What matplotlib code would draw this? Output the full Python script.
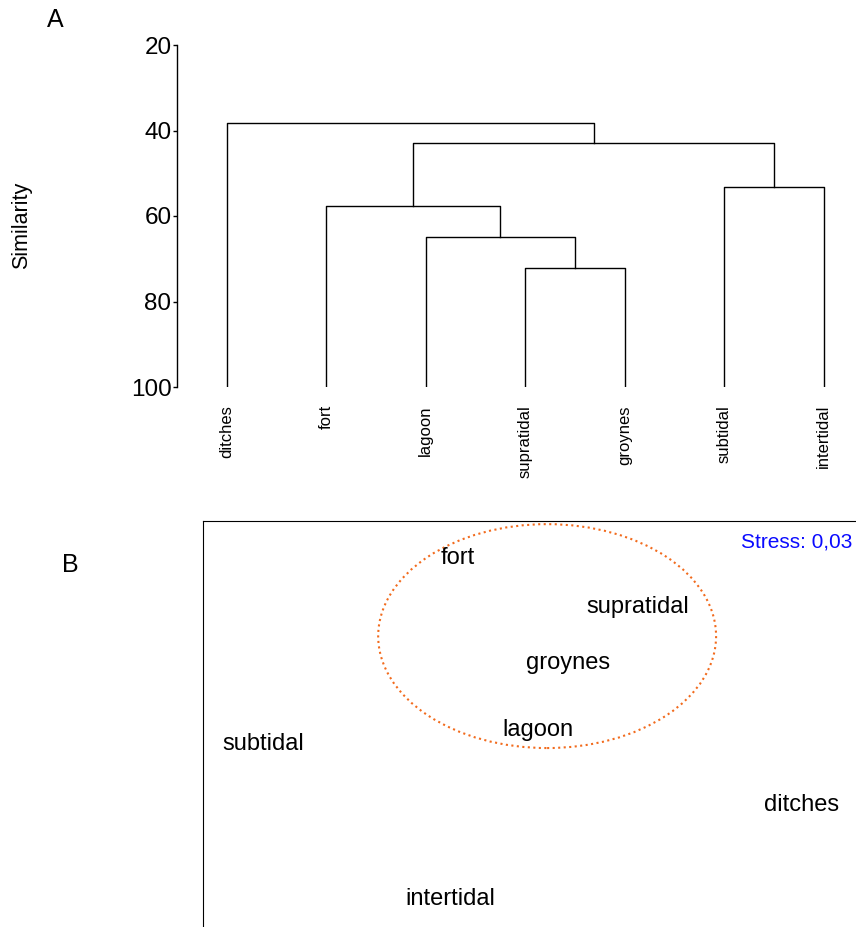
import matplotlib.pyplot as plt
from matplotlib.patches import Ellipse

plt.rcParams['font.family'] = ['Liberation Sans', 'DejaVu Sans']

# cluster analysis (panel A)
leaves = ['ditches', 'fort', 'lagoon', 'supratidal', 'groynes', 'subtidal', 'intertidal']
# merges like a linkage matrix: (child a, child b, similarity); new clusters get ids 7, 8, ...
merges = [(3, 4, 72.2), (2, 7, 64.9), (1, 8, 57.7), (5, 6, 53.2), (9, 10, 42.9), (0, 11, 38.2)]
sim_ticks = [20, 40, 60, 80, 100]

# MDS ordination (panel B)
mds_labels = ['fort', 'supratidal', 'groynes', 'lagoon', 'subtidal', 'ditches', 'intertidal']
mds_x = [-0.219, 0.332, 0.118, 0.026, -0.816, 0.832, -0.243]
mds_y = [0.818, 0.576, 0.300, -0.030, -0.099, -0.399, -0.862]
group_center = (0.054, 0.433)
group_size = (1.035, 1.103)
stress = '0,03'

W, H = 856, 927
fig = plt.figure(figsize=(W / 100, H / 100), dpi=100)

# --- panel A: dendrogram ---
axA = fig.add_axes([177 / W, (H - 387) / H, 676.6 / W, 342 / H])
xs = {i: i + 1 for i in range(len(leaves))}
hs = {i: 100 for i in range(len(leaves))}
for k, (a, b, h) in enumerate(merges):
    xa, xb = xs[a], xs[b]
    axA.plot([xa, xa, xb, xb], [hs[a], h, h, hs[b]], color='black', lw=1)
    new = len(leaves) + k
    xs[new] = (xa + xb) / 2
    hs[new] = h

axA.set_xlim(0.5, 7.3)
axA.set_ylim(100, 20)
axA.set_yticks(sim_ticks)
axA.tick_params(axis='y', labelsize=17.5, length=3, width=1, direction='out', pad=1)
axA.set_xticks(range(1, len(leaves) + 1))
axA.set_xticklabels(leaves, rotation=90, fontsize=12)
axA.tick_params(axis='x', length=0, pad=13)
for s in ['top', 'right', 'bottom']:
    axA.spines[s].set_visible(False)
axA.spines['left'].set_linewidth(1)

fig.text(22 / W, 1 - 225 / H, 'Similarity', rotation=90, fontsize=15.5,
         ha='center', va='center')
fig.text(55 / W, 1 - 20 / H, 'A', fontsize=18, ha='center', va='center')
fig.text(70 / W, 1 - 565 / H, 'B', fontsize=18, ha='center', va='center')

# --- panel B: MDS plot ---
axB = fig.add_axes([203 / W, 0, (W - 203) / W, 406 / H])
axB.set_xlim(-1, 1)
axB.set_ylim(-1, 1)
for lab, x, y in zip(mds_labels, mds_x, mds_y):
    axB.text(x, y, lab, fontsize=17, ha='center', va='center')
axB.add_patch(Ellipse(group_center, group_size[0], group_size[1], fill=False,
                      edgecolor='#f26b1d', linestyle=':', lw=1.5))
axB.text(0.995, 0.972, 'Stress: ' + stress, transform=axB.transAxes, color='#0a0aff',
         fontsize=15, ha='right', va='top')
axB.set_xticks([])
axB.set_yticks([])
axB.spines['right'].set_visible(False)
axB.spines['bottom'].set_visible(False)

fig.savefig('out.png', dpi=100)
